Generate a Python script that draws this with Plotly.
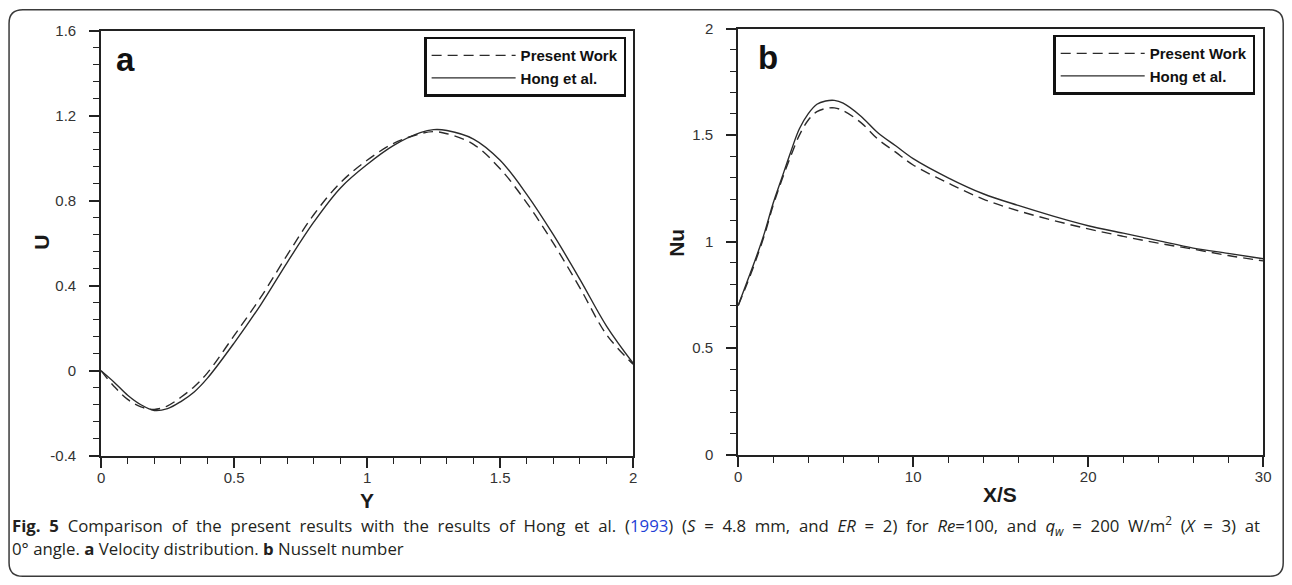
import plotly.graph_objects as go

# ---------------- data ----------------
Y_vals = [0, 0.05, 0.1, 0.15, 0.2, 0.25, 0.3, 0.35, 0.4, 0.5, 0.6, 0.7, 0.8, 0.9,
          1.0, 1.1, 1.2, 1.25, 1.3, 1.4, 1.5, 1.6, 1.7, 1.8, 1.9, 2.0]
U_present = [0, -0.075, -0.135, -0.17, -0.182, -0.165, -0.125, -0.075, -0.01, 0.165, 0.345,
             0.545, 0.735, 0.885, 0.99, 1.07, 1.115, 1.125, 1.115, 1.065, 0.95, 0.79, 0.60,
             0.39, 0.17, 0.03]
U_hong = [0, -0.055, -0.115, -0.16, -0.187, -0.178, -0.145, -0.10, -0.035, 0.13, 0.31,
          0.51, 0.70, 0.86, 0.97, 1.06, 1.12, 1.134, 1.13, 1.09, 0.99, 0.83, 0.64, 0.43,
          0.21, 0.035]

XS_vals = [0, 0.5, 1, 1.5, 2, 2.5, 3, 3.5, 4, 4.5, 5, 5.5, 6, 7, 8, 9, 10, 12, 14, 16,
           18, 20, 22, 24, 26, 28, 30]
Nu_present = [0.70, 0.80, 0.91, 1.03, 1.17, 1.29, 1.40, 1.50, 1.57, 1.61, 1.625, 1.628, 1.615,
              1.56, 1.48, 1.42, 1.36, 1.275, 1.20, 1.145, 1.10, 1.06, 1.025, 0.993, 0.965, 0.935, 0.91]
Nu_hong = [0.70, 0.81, 0.92, 1.04, 1.18, 1.30, 1.42, 1.53, 1.60, 1.645, 1.66, 1.663, 1.65,
           1.59, 1.51, 1.45, 1.39, 1.30, 1.225, 1.17, 1.12, 1.075, 1.04, 1.005, 0.97, 0.945, 0.92]

series_names = ["Present Work", "Hong et al."]

a_xticks = [0, 0.5, 1, 1.5, 2]
a_xticklabels = ["0", "0.5", "1", "1.5", "2"]
a_yticks = [-0.4, 0, 0.4, 0.8, 1.2, 1.6]
a_yticklabels = ["-0.4", "0", "0.4", "0.8", "1.2", "1.6"]
b_xticks = [0, 10, 20, 30]
b_xticklabels = ["0", "10", "20", "30"]
b_yticks = [0, 0.5, 1, 1.5, 2]
b_yticklabels = ["0", "0.5", "1", "1.5", "2"]

GAP = " \u00a0"  # widened word gap (the printed caption line is justified)
caption_line1 = GAP.join([
    "<b>Fig.", "5</b>", "Comparison", "of", "the", "present", "results", "with", "the",
    "results", "of", "Hong", "et", "al.", "(<span style='color:#1f3fd6'>1993</span>)",
    "(<i>S</i>", "=", "4.8", "mm,", "and", "<i>ER</i>", "=", "2)", "for", "<i>Re</i>=100,",
    "and", "<i>q</i><sub><i>w</i></sub>", "=", "200", "W/m<sup>2</sup>", "(<i>X</i>", "=",
    "3)", "at"])
caption_line2 = "0° angle. <b>a</b> Velocity distribution. <b>b</b> Nusselt number"

# ---------------- figure ----------------
W, H = 1292, 585
LINE_COL = "#2b2b2b"
DASH = "10px,6px"

# the photographed page is shown slightly inset/scaled; map target picture pixels to page pixels
SX, OX = 0.9906, 3.95
SY, OY = 0.9706, 9.4


def qx(p):
    return (p - OX) / SX


def qy(p):
    return (p - OY) / SY


def px_x(p):
    return qx(p) / W


def px_y(p):
    return 1 - qy(p) / H


fig = go.Figure()
fig.add_trace(go.Scatter(x=Y_vals, y=U_present, name=series_names[0], mode="lines",
                         line=dict(color=LINE_COL, width=1.4, dash=DASH, shape="spline"),
                         xaxis="x", yaxis="y", legend="legend"))
fig.add_trace(go.Scatter(x=Y_vals, y=U_hong, name=series_names[1], mode="lines",
                         line=dict(color=LINE_COL, width=1.4, shape="spline"),
                         xaxis="x", yaxis="y", legend="legend"))
fig.add_trace(go.Scatter(x=XS_vals, y=Nu_present, name=series_names[0], mode="lines",
                         line=dict(color=LINE_COL, width=1.4, dash=DASH, shape="spline"),
                         xaxis="x2", yaxis="y2", legend="legend2"))
fig.add_trace(go.Scatter(x=XS_vals, y=Nu_hong, name=series_names[1], mode="lines",
                         line=dict(color=LINE_COL, width=1.4, shape="spline"),
                         xaxis="x2", yaxis="y2", legend="legend2"))

tickfont = dict(family="Liberation Sans, Arial, sans-serif", size=15, color="#333333")
axis_common = dict(showline=True, linecolor="#222222", linewidth=1.8, mirror=True,
                   showgrid=False, zeroline=False, ticks="outside", ticklen=10,
                   tickwidth=1.6, tickcolor="#222222", tickfont=tickfont,
                   tickmode="array")
minor_common = dict(ticks="outside", ticklen=6, tickwidth=1.4, tickcolor="#222222", tick0=0)

legend_common = dict(xanchor="right", yanchor="top", bordercolor="#111111", borderwidth=2.5,
                     bgcolor="white", itemwidth=84, tracegroupgap=0,
                     font=dict(family="Liberation Sans, Arial, sans-serif", size=15,
                               color="#111111", weight="bold"))

fig.update_layout(
    width=W, height=H, margin=dict(l=0, r=0, t=0, b=0),
    paper_bgcolor="white", plot_bgcolor="white",
    xaxis=dict(domain=[px_x(101), px_x(633)], range=[0, 2], tickvals=a_xticks,
               ticktext=a_xticklabels, anchor="y", ticklabelstandoff=-3,
               minor=dict(dtick=0.1, **minor_common), **axis_common),
    yaxis=dict(domain=[px_y(456), px_y(31)], range=[-0.4, 1.6], tickvals=a_yticks,
               ticktext=a_yticklabels, anchor="x", ticklabelstandoff=10,
               minor=dict(dtick=0.08, **minor_common), **axis_common),
    xaxis2=dict(domain=[px_x(738), px_x(1263)], range=[0, 30], tickvals=b_xticks,
                ticktext=b_xticklabels, anchor="y2", ticklabelstandoff=-3,
                minor=dict(dtick=2, **minor_common), **axis_common),
    yaxis2=dict(domain=[px_y(455), px_y(29)], range=[0, 2], tickvals=b_yticks,
                ticktext=b_yticklabels, anchor="x2", ticklabelstandoff=10,
                minor=dict(dtick=0.1, **minor_common), **axis_common),
    legend=dict(x=px_x(626), y=px_y(37), **legend_common),
    legend2=dict(x=px_x(1255), y=px_y(35), **legend_common),
    showlegend=True,
)

title_font = dict(family="Liberation Sans, Arial, sans-serif", size=21, color="#1a1a1a",
                  weight="bold")
panel_font = dict(family="Liberation Sans, Arial, sans-serif", size=33, color="#111111",
                  weight="bold")
annos = [
    dict(text="Y", x=px_x(367), y=px_y(501), font=title_font),
    dict(text="X/S", x=px_x(1000), y=px_y(495), font=title_font),
    dict(text="U", x=px_x(42), y=px_y(243), font=title_font, textangle=-90),
    dict(text="Nu", x=px_x(677), y=px_y(243), font=title_font, textangle=-90),
    dict(text="a", x=px_x(125), y=px_y(60), font=panel_font),
    dict(text="b", x=px_x(768), y=px_y(58), font=panel_font),
]
for a in annos:
    fig.add_annotation(xref="paper", yref="paper", showarrow=False,
                       xanchor="center", yanchor="middle", **a)

cap_font = dict(family="Open Sans, Noto Sans, sans-serif", size=16.8, color="#231f20")
fig.add_annotation(text=caption_line1, xref="paper", yref="paper", x=px_x(10), y=px_y(526),
                   xanchor="left", yanchor="middle", showarrow=False, font=cap_font)
fig.add_annotation(text=caption_line2, xref="paper", yref="paper", x=px_x(10), y=px_y(549),
                   xanchor="left", yanchor="middle", showarrow=False, font=cap_font)

# rounded outer frame (clamped to the page)
fl = max(qx(9), 0.8)
fr = min(qx(1288), W - 0.8)
ft = max(qy(5), 0.8)
fb = min(qy(583), H - 0.8)
r = 14


def fx(v):
    return v / W


def fy(v):
    return 1 - v / H


path = (f"M {fx(fl + r)},{fy(ft)} L {fx(fr - r)},{fy(ft)} "
        f"Q {fx(fr)},{fy(ft)} {fx(fr)},{fy(ft + r)} L {fx(fr)},{fy(fb - r)} "
        f"Q {fx(fr)},{fy(fb)} {fx(fr - r)},{fy(fb)} L {fx(fl + r)},{fy(fb)} "
        f"Q {fx(fl)},{fy(fb)} {fx(fl)},{fy(fb - r)} L {fx(fl)},{fy(ft + r)} "
        f"Q {fx(fl)},{fy(ft)} {fx(fl + r)},{fy(ft)} Z")
fig.add_shape(type="path", path=path, xref="paper", yref="paper",
              line=dict(color="#3a3a3a", width=1.5), layer="below")

page_css = ("document.documentElement.style.margin='0';document.body.style.margin='0';"
            "document.body.style.padding='0';document.body.style.overflow='hidden';"
            "document.documentElement.style.overflow='hidden';")
fig.write_html("out.html", config={"displayModeBar": False}, post_script=page_css)
